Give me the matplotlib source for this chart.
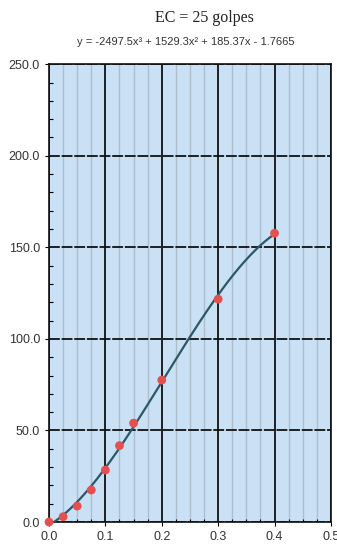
import numpy as np
import matplotlib.pyplot as plt
from matplotlib.ticker import MultipleLocator, FormatStrFormatter

# ensayo de limite liquido, punto de 25 golpes
w_x = [0.0, 0.025, 0.05, 0.075, 0.1, 0.125, 0.15, 0.2, 0.3, 0.4]
w_y = [0.0, 2.9, 8.7, 17.5, 28.4, 41.7, 54.0, 77.5, 121.7, 157.7]

# ajuste polinomico de grado 3 (coeficientes de la ecuacion)
coefs = [-2497.5, 1529.3, 185.37, -1.7665]
titulo = "EC = 25 golpes"
ecuacion = "y = -2497.5x³ + 1529.3x² + 185.37x - 1.7665"

plt.rcParams['font.family'] = ['Liberation Sans', 'DejaVu Sans']

fig = plt.figure(figsize=(3.37, 5.44), dpi=100)
ax = fig.add_axes([0.1454, 0.0404, 0.8366, 0.8416])
ax.set_facecolor('#c9e0f5')

ax.set_xlim(0, 0.5)
ax.set_ylim(0, 250)

ax.xaxis.set_major_locator(MultipleLocator(0.1))
ax.xaxis.set_minor_locator(MultipleLocator(0.025))
ax.yaxis.set_major_locator(MultipleLocator(50))
ax.yaxis.set_minor_locator(MultipleLocator(10))
ax.xaxis.set_major_formatter(FormatStrFormatter('%.1f'))
ax.yaxis.set_major_formatter(FormatStrFormatter('%.1f'))

ax.grid(axis='x', which='minor', color='#adbfcf', lw=1.0)
ax.grid(axis='x', which='major', color='#111111', lw=1.3)
ax.grid(axis='y', which='major', color='#111111', lw=1.3, ls=(0, (6, 1)))
ax.set_axisbelow(True)

ax.tick_params(which='major', labelsize=9, labelcolor='#333333', length=3, width=0.8)
ax.tick_params(which='minor', direction='in', length=3, width=0.8)
ax.tick_params(axis='x', which='minor', length=2)
for s in ax.spines.values():
    s.set_color('#111111')
    s.set_linewidth(1.2)

xs = np.linspace(0, 0.4, 200)
ax.plot(xs, np.polyval(coefs, xs), color='#2b5868', lw=1.6, zorder=3)
ax.scatter(w_x, w_y, s=40, color='#e4504e', zorder=4, clip_on=False, edgecolors='none')

fig.text(0.606, 0.967, titulo, ha='center', va='center', fontsize=11.5,
         family=['Liberation Serif', 'DejaVu Serif'], color='#222222')
fig.text(0.552, 0.923, ecuacion, ha='center', va='center', fontsize=8, color='#333333')

fig.savefig('out.png', dpi=100)
